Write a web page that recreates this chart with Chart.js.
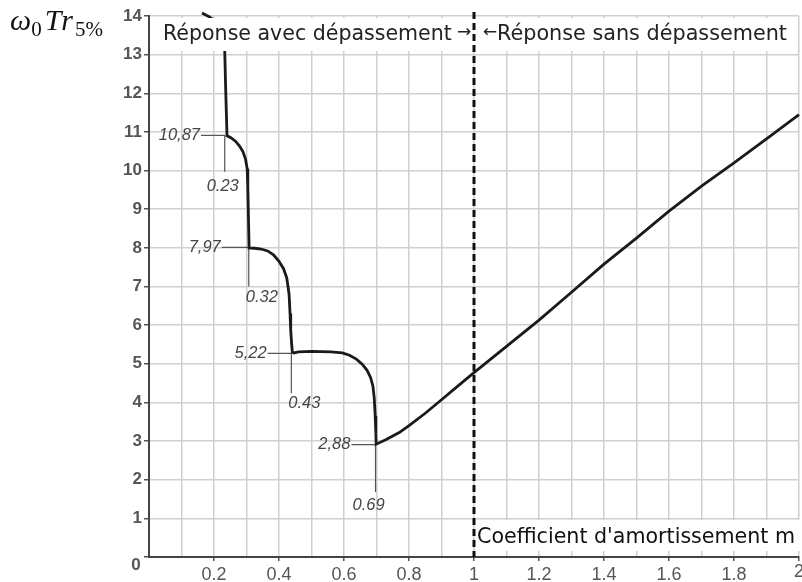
<!DOCTYPE html>
<html><head><meta charset="utf-8">
<script src="https://cdn.jsdelivr.net/npm/chart.js@4"></script>
<style>html,body{margin:0;padding:0;background:#fff;overflow:hidden}canvas{display:block}</style>
</head><body>
<canvas id="c" width="802" height="582"></canvas>
<script>
// ---- data ----
const curveX = [0.163,0.185,0.205,0.22,0.229,0.233,0.236,0.238,0.24,
  0.252,0.266,0.278,0.289,0.297,0.302,0.304,0.306,0.308,
  0.325,0.345,0.365,0.383,0.4,0.414,0.424,0.431,0.434,0.436,0.439,0.441,
  0.446,0.46,0.5,0.56,0.595,0.617,0.638,0.656,0.671,0.682,0.689,0.693,0.696,0.698,0.699,
  0.73,0.77,0.8,0.85,0.9,0.95,1.0,1.1,1.2,1.3,1.4,1.5,1.6,1.7,1.8,1.9,2.0];
const curveY = [14.08,13.98,13.86,13.6,13.35,13.1,12.1,11.5,10.9,
  10.85,10.76,10.64,10.49,10.3,10.05,9.6,8.8,8.0,
  7.99,7.97,7.92,7.82,7.65,7.46,7.22,6.8,6.3,5.87,5.5,5.3,
  5.28,5.31,5.32,5.31,5.28,5.22,5.12,4.99,4.83,4.64,4.42,4.12,3.65,3.2,2.92,
  3.04,3.22,3.4,3.72,4.07,4.42,4.77,5.45,6.13,6.85,7.58,8.25,8.95,9.6,10.2,10.82,11.45];
const cornerX = [0.233,0.307,0.438,0.697];
const cornerY = [10.91,8.01,5.27,2.91];
const leaderStartX = [0.16,0.224,0.365,0.623];
const leaderEndY = [9.97,7.0,4.24,1.68];
const cornerYText = ['10,87','7,97','5,22','2,88'];
const cornerXText = ['0.23','0.32','0.43','0.69'];
const dividerX = 1;
const xTickValues = [0.2,0.4,0.6,0.8,1,1.2,1.4,1.6,1.8,2];
const xTickLabels = ['0.2','0.4','0.6','0.8','1','1.2','1.4','1.6','1.8','2'];
const yTickLabels = ['0','1','2','3','4','5','6','7','8','9','10','11','12','13','14'];
const leftTitle = 'Réponse avec dépassement';
const rightTitle = 'Réponse sans dépassement';
const xTitle = "Coefficient d'amortissement m";

// ---- styling ----
const xLabelOffsets = [[-2,15],[13,11],[13,10],[-7,13]];

const curveData = curveX.map((x,i)=>({x:x,y:curveY[i]}));
const leaderSets = cornerX.map((cx,i)=>({
  data:[{x:leaderStartX[i],y:cornerY[i]},{x:cx,y:cornerY[i]},{x:cx,y:leaderEndY[i]}],
  borderColor:'#555', borderWidth:1.2, pointRadius:0, tension:0, clip:false
}));

function fitFont(ctx, text, target, family, style){
  ctx.font = (style||'') + ' 20px ' + family;
  const w = ctx.measureText(text).width;
  return 20*target/w;
}

const overlay = {
  id:'overlay',
  afterDatasetsDraw(chart){
    const ctx = chart.ctx, xs = chart.scales.x, ys = chart.scales.y, ca = chart.chartArea;
    ctx.save();
    // top white box with titles
    ctx.fillStyle = '#fff';
    ctx.fillRect(ca.left+1, 18, 792-ca.left, 33);
    // bottom white box
    ctx.fillRect(477, 520, 802-477, 31);
    // divider
    const dx = xs.getPixelForValue(dividerX);
    ctx.strokeStyle = '#111'; ctx.lineWidth = 3; ctx.setLineDash([7,4]);
    ctx.beginPath(); ctx.moveTo(dx, 12); ctx.lineTo(dx, ca.bottom); ctx.stroke();
    ctx.setLineDash([]);
    // titles
    ctx.fillStyle = '#222'; ctx.textBaseline = 'alphabetic'; ctx.textAlign = 'left';
    let fs = fitFont(ctx, leftTitle, 289, '"DejaVu Sans"');
    ctx.font = fs.toFixed(2)+'px "DejaVu Sans"';
    ctx.fillText(leftTitle, 163, 40);
    fs = fitFont(ctx, rightTitle, 290, '"DejaVu Sans"');
    ctx.font = fs.toFixed(2)+'px "DejaVu Sans"';
    ctx.fillText(rightTitle, 497, 40);
    ctx.font = '17px "DejaVu Sans"';
    ctx.textBaseline = 'middle';
    ctx.fillText('→', 457, 33);
    ctx.fillText('←', 483, 33);
    // x title
    ctx.textBaseline = 'alphabetic';
    fs = fitFont(ctx, xTitle, 318, '"DejaVu Sans"');
    ctx.font = fs.toFixed(2)+'px "DejaVu Sans"';
    ctx.fillStyle = '#111';
    ctx.fillText(xTitle, 477, 543);
    // corner labels
    ctx.fillStyle = '#444';
    ctx.font = 'italic 16.5px "Liberation Sans"';
    ctx.textBaseline = 'middle';
    cornerX.forEach((cx,i)=>{
      const hx = xs.getPixelForValue(leaderStartX[i]);
      const hy = ys.getPixelForValue(cornerY[i]);
      ctx.textAlign = 'right';
      ctx.fillText(cornerYText[i], hx-1, hy);
      const vx = xs.getPixelForValue(cx);
      const vy = ys.getPixelForValue(leaderEndY[i]);
      ctx.textAlign = 'center';
      ctx.fillText(cornerXText[i], vx+xLabelOffsets[i][0], vy+xLabelOffsets[i][1]);
    });
    // origin label and clipped last x label
    ctx.fillStyle = '#555';
    ctx.font = 'bold 17px "Liberation Sans"';
    ctx.textAlign = 'center';
    ctx.fillText(yTickLabels[0], 136, 565);
    ctx.font = '18px "Liberation Sans"';
    ctx.fillText(xTickLabels[xTickLabels.length-1], xs.getPixelForValue(xTickValues[xTickValues.length-1]), 572);
    // y axis title (math style)
    ctx.fillStyle = '#111'; ctx.textAlign = 'left'; ctx.textBaseline = 'alphabetic';
    const parts = [['ω','italic',1,0],['0','',0.7,6],['T','italic',1,0],['r','italic',1,0],['5%','',0.7,6]];
    const base = 30;
    let x = 10;
    parts.forEach(p=>{
      ctx.font = p[1]+' '+(base*p[2]).toFixed(1)+'px "Liberation Serif"';
      ctx.fillText(p[0], x, 30+p[3]);
      x += ctx.measureText(p[0]).width + (p[0]==='0' ? 3 : 0) + (p[0]==='r' ? 2 : 0);
    });
    ctx.restore();
  }
};

new Chart(document.getElementById('c'), {
  type:'line',
  data:{datasets:[
    {data:curveData, borderColor:'#1a1a1a', borderWidth:2.8, pointRadius:0, tension:0, clip:false},
    ...leaderSets
  ]},
  options:{
    responsive:false, animation:false, events:[],
    layout:{padding:{top:16,right:1,left:0,bottom:0}},
    plugins:{legend:{display:false},tooltip:{enabled:false}},
    scales:{
      x:{type:'linear', min:0, max:2,
        afterFit(s){ s.height = 25; },
        ticks:{stepSize:0.1, autoSkip:false, maxRotation:0, padding:3,
          color:'#555', font:{family:'"Liberation Sans"', size:18},
          callback(v){ const i = xTickValues.findIndex(t=>Math.abs(t-v)<1e-6); return (i>=0 && i<xTickValues.length-1) ? xTickLabels[i] : ''; }},
        grid:{color:'#d0d0d0', lineWidth:1.5, tickLength:4,
          tickColor(c){ const v=c.tick?c.tick.value:0; return xTickValues.some(t=>Math.abs(t-v)<1e-6)?'#555':'rgba(0,0,0,0)'; }},
        border:{display:true, color:'#444', width:2}
      },
      y:{min:0, max:14,
        afterFit(s){ s.width = 149; },
        ticks:{stepSize:1, padding:2, color:'#555', font:{family:'"Liberation Sans"', size:17, weight:'bold'},
          callback(v){ return v===0 ? '' : yTickLabels[v]; }},
        grid:{color:'#d0d0d0', lineWidth:1.5, tickLength:5, tickColor:'#555'},
        border:{display:true, color:'#444', width:2}
      }
    }
  },
  plugins:[overlay]
});
</script>
</body></html>
